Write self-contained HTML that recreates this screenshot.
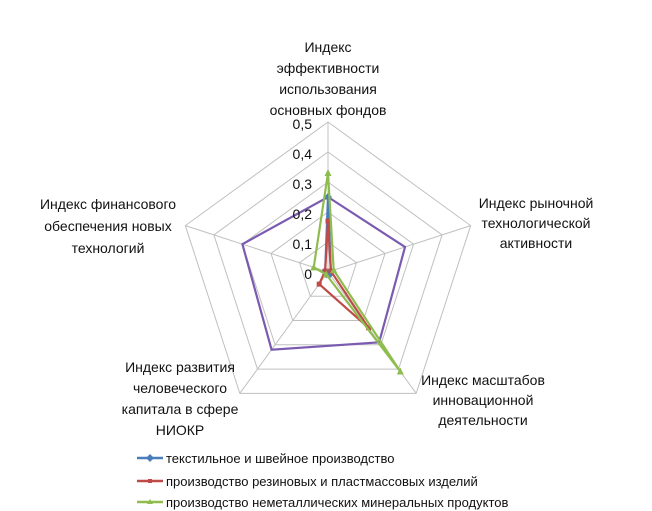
<!DOCTYPE html>
<html><head><meta charset="utf-8"><style>
body{margin:0;background:#fff;}
svg{display:block;font-family:"Liberation Sans","DejaVu Sans",sans-serif;}
</style></head><body>
<svg id="chart" width="652" height="511" viewBox="0 0 652 511">
<g id="grid"></g>
<g id="series"></g>
<g id="labels" font-size="14" fill="#111" text-anchor="middle">
<text x="328" y="52">Индекс</text><text x="328" y="73">эффективности</text><text x="328" y="94">использования</text><text x="328" y="115">основных фондов</text>
<text x="536" y="208">Индекс рыночной</text><text x="536" y="228">технологической</text><text x="536" y="248">активности</text>
<text x="483" y="385">Индекс масштабов</text><text x="483" y="405">инновационной</text><text x="483" y="425">деятельности</text>
<text x="180" y="372">Индекс развития</text><text x="180" y="393">человеческого</text><text x="180" y="414">капитала в сфере</text><text x="180" y="435">НИОКР</text>
<text x="108" y="209">Индекс финансового</text><text x="108" y="231">обеспечения  новых</text><text x="108" y="253">технологий</text>
</g>
<g id="ticks" font-size="14" fill="#111" text-anchor="end"></g>
<g id="legend" font-size="13" fill="#111"></g>
</svg>
<script>
const categories=["top","right","lowerRight","lowerLeft","left"];
const tickLabels=["0","0,1","0,2","0,3","0,4","0,5"];
const tickValues=[0,0.1,0.2,0.3,0.4,0.5];
const seriesNames=["текстильное и швейное  производство","производство резиновых и пластмассовых изделий","производство  неметаллических минеральных продуктов"];
const purpleValues=[0.25,0.27,0.29,0.32,0.30];
const textileValues=[0.25,0.01,0.01,0.01,0.01];
const rubberValues=[0.17,0.01,0.23,0.05,0.01];
const mineralValues=[0.33,0.02,0.41,0.01,0.05];
const NS="http://www.w3.org/2000/svg";
const cx=328,cy=272,R=150,maxV=0.5;
function ang(i){return -Math.PI/2+i*2*Math.PI/categories.length;}
function pt(i,v){const r=v/maxV*R;return [cx+r*Math.cos(ang(i)),cy+r*Math.sin(ang(i))];}
function mk(tag,attrs,parent){const e=document.createElementNS(NS,tag);for(const k in attrs)e.setAttribute(k,attrs[k]);parent.appendChild(e);return e;}
const grid=document.getElementById('grid');
tickValues.forEach((t,k)=>{if(t===0)return;
 const p=mk('polygon',{points:categories.map((c,i)=>pt(i,t).join(',')).join(' '),fill:'none',stroke:'#c0c0c0','stroke-width':1},grid);
 
 });
categories.forEach((c,i)=>{const e=pt(i,maxV);const l=mk('line',{x1:cx,y1:cy,x2:e[0],y2:e[1],stroke:'#c0c0c0'},grid);
 
 });
const ticks=document.getElementById('ticks');
tickValues.forEach((t,k)=>{const p=pt(0,t);const tx=mk('text',{x:p[0]-16,y:p[1]+7},ticks);tx.textContent=tickLabels[k];
 
 });
const sg=document.getElementById('series');
function drawSeries(vals,color,marker,name){
 const g=mk('g',{},sg);
 
 
 const pts=vals.map((v,i)=>pt(i,v));
 mk('polygon',{points:pts.map(p=>p.join(',')).join(' '),fill:'none',stroke:color,'stroke-width':2.2,'stroke-linejoin':'miter'},g);
 pts.forEach(p=>{let m;
  if(marker==='diamond')m=mk('polygon',{points:`${p[0]},${p[1]-4} ${p[0]+4},${p[1]} ${p[0]},${p[1]+4} ${p[0]-4},${p[1]}`,fill:color},g);
  else if(marker==='square')m=mk('rect',{x:p[0]-2.5,y:p[1]-2.5,width:5,height:5,fill:color},g);
  else if(marker==='triangle')m=mk('polygon',{points:`${p[0]},${p[1]-4} ${p[0]+3.5},${p[1]+3} ${p[0]-3.5},${p[1]+3}`,fill:color},g);
  if(m){
  }});
}
drawSeries(purpleValues,'#7a5bb0','none','series-purple');
drawSeries(textileValues,'#4a7ebb','diamond','series-textile');
drawSeries(rubberValues,'#be4b48','square','series-rubber');
drawSeries(mineralValues,'#8fbc4f','triangle','series-mineral');
const lg=document.getElementById('legend');
const legColors=['#4a7ebb','#be4b48','#8fbc4f'];
const legMarkers=['diamond','square','triangle'];
seriesNames.forEach((n,k)=>{const y=[458,481,502][k];
 const g=mk('g',{},lg);
 
 
 mk('line',{x1:137,y1:y,x2:163,y2:y,stroke:legColors[k],'stroke-width':2.5},g);
 const mx=150;
 if(legMarkers[k]==='diamond')mk('polygon',{points:`${mx},${y-4} ${mx+4},${y} ${mx},${y+4} ${mx-4},${y}`,fill:legColors[k]},g);
 else if(legMarkers[k]==='square')mk('rect',{x:mx-2,y:y-2,width:4,height:4,fill:legColors[k]},g);
 else mk('polygon',{points:`${mx},${y-3} ${mx+3},${y+2} ${mx-3},${y+2}`,fill:legColors[k]},g);
 const t=mk('text',{x:166,y:y+5},g);t.textContent=n;});
</script>
</body></html>
